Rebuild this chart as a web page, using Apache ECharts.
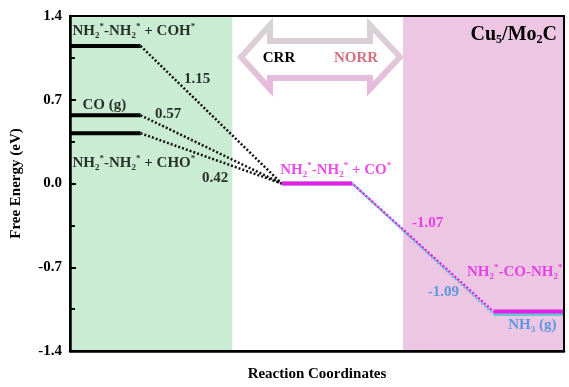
<!DOCTYPE html>
<html>
<head>
<meta charset="utf-8">
<script src="https://cdn.jsdelivr.net/npm/echarts@6/dist/echarts.min.js"></script>
<style>
  html, body { margin: 0; padding: 0; background: #fff; }
  #chart { width: 569px; height: 387px; }
</style>
</head>
<body>
<div id="chart"></div>
<script>
// Free-energy profile: C–N coupling on Cu5/Mo2C
const crrStates = ['NH_2^*-NH_2^* + COH^*', 'CO (g)', 'NH_2^*-NH_2^* + CHO^*'];
const crrEnergies = [1.15, 0.57, 0.42];
const crrBarrierLabels = ['1.15', '0.57', '0.42'];
const coState = 'NH_2^*-NH_2^* + CO^*';
const coEnergy = 0.0;
const ureaState = 'NH_2^*-CO-NH_2^*';
const ureaEnergy = -1.07;
const nh3State = 'NH_3 (g)';
const nh3Energy = -1.09;
const yTickLabels = ['-1.4', '-0.7', '0.0', '0.7', '1.4'];

const FONT = '"Liberation Serif", "Times New Roman", serif';
const BLACK = '#000';
const MAGENTA = '#e61ee6';
const CYAN = '#5ccbd2';
const BLUE = '#3b8de0';
const GREEN_BG = '#c9ecd3';
const PINK_BG = '#ecc6e2';

// reaction-coordinate columns (each state level spans one unit)
const COL_CRR = 0, COL_CO = 3, COL_END = 6;
const X_MAX = 7;

// convert "_2" into subscripts and "^*" into superscripts for rich text
function rich(s) {
  return s.replace(/_(\w)/g, '{s|$1}').replace(/\^\*/g, '{p|*}');
}
function richStyles(color, size) {
  const small = Math.round(size * 0.6);
  return {
    s: { fontSize: small, lineHeight: small, verticalAlign: 'bottom', fontWeight: 'bold', fontFamily: FONT, color: color },
    p: { fontSize: small, lineHeight: 13, verticalAlign: 'top', fontWeight: 'bold', fontFamily: FONT, color: color }
  };
}
function note(x, y, text, color, align, offset, size) {
  size = size || 15;
  return {
    value: [x, y],
    label: {
      show: true,
      position: [0, 0],
      align: align,
      verticalAlign: 'middle',
      offset: offset,
      formatter: rich(text),
      color: color,
      fontFamily: FONT,
      fontWeight: 'bold',
      fontSize: size,
      lineHeight: 18,
      rich: richStyles(color, size)
    }
  };
}

const yMin = parseFloat(yTickLabels[0]);
const yMax = parseFloat(yTickLabels[yTickLabels.length - 1]);
const yInterval = parseFloat(yTickLabels[1]) - parseFloat(yTickLabels[0]);

function levelSeries(col, e, color, width) {
  return { type: 'line', data: [[col, e], [col + 1, e]], symbol: 'none', z: 5,
    lineStyle: { color: color, width: width, cap: 'butt' } };
}
function linkSeries(x0, e0, x1, e1, color, dashOffset) {
  return { type: 'line', data: [[x0, e0], [x1, e1]], symbol: 'none', z: 4,
    lineStyle: { color: color, width: 2.5, type: [2, 2], dashOffset: dashOffset || 0 } };
}

const series = [];
// shaded regions (kept beneath the axes and frame)
series.push({
  type: 'line', data: [], silent: true, z: -5,
  markArea: {
    silent: true, z: -5,
    data: [
      [{ xAxis: 0, itemStyle: { color: GREEN_BG } }, { xAxis: 2.3 }],
      [{ xAxis: 4.72, itemStyle: { color: PINK_BG } }, { xAxis: X_MAX }]
    ]
  }
});
// CRR starting states and connectors to CO*
crrEnergies.forEach(function (e) {
  series.push(levelSeries(COL_CRR, e, BLACK, 4));
  series.push(linkSeries(COL_CRR + 1, e, COL_CO, coEnergy, '#111'));
});
// CO* level and its paths to the final states
series.push(levelSeries(COL_CO, coEnergy, CYAN, 4));
series.push(levelSeries(COL_CO, coEnergy, MAGENTA, 4));
series.push(linkSeries(COL_CO + 1, coEnergy, COL_END, nh3Energy, CYAN, 0));
series.push(linkSeries(COL_CO + 1, coEnergy, COL_END, ureaEnergy, MAGENTA, 2));
series.push(levelSeries(COL_END, nh3Energy, CYAN, 4));
series.push(levelSeries(COL_END, ureaEnergy, MAGENTA, 4));

// state names and energy labels
const notes = [
  note(COL_CRR, crrEnergies[0], crrStates[0], BLACK, 'left', [3, -14]),
  note(COL_CRR, crrEnergies[1], crrStates[1], BLACK, 'left', [13, -10]),
  note(COL_CRR, crrEnergies[2], crrStates[2], BLACK, 'left', [3, 30]),
  note(COL_CRR + 1, crrEnergies[0], crrBarrierLabels[0], BLACK, 'left', [44, 34]),
  note(COL_CRR + 1, crrEnergies[1], crrBarrierLabels[1], BLACK, 'left', [15, -1]),
  note(COL_CRR + 1, crrEnergies[2], crrBarrierLabels[2], BLACK, 'left', [62, 45]),
  note(COL_CO, coEnergy, coState, MAGENTA, 'left', [-1, -13]),
  note(COL_END, ureaEnergy, ureaEnergy.toFixed(2), MAGENTA, 'left', [-81, -88]),
  note(COL_END + 1, ureaEnergy, ureaState, MAGENTA, 'right', [-1, -39]),
  note(COL_END, nh3Energy, nh3Energy.toFixed(2), BLUE, 'right', [-34, -21]),
  note(COL_END + 1, nh3Energy, nh3State, BLUE, 'right', [-7, 12])
];
series.push({
  type: 'scatter', data: notes, symbolSize: 1, z: 10, silent: true,
  itemStyle: { color: 'rgba(0,0,0,0)' }
});

const chart = echarts.init(document.getElementById('chart'), null, { renderer: 'canvas' });

// CRR <-> NORR double arrow outline
const arrowStroke = new echarts.graphic.LinearGradient(0, 0, 0, 1, [
  { offset: 0, color: '#d4d4d4' },
  { offset: 0.45, color: '#e0cbd9' },
  { offset: 1, color: '#e8b6dc' }
]);

chart.setOption({
  animation: false,
  backgroundColor: '#fff',
  grid: { left: 70, right: 5, top: 16, bottom: 31, show: true, z: 8, borderColor: BLACK, borderWidth: 2, backgroundColor: 'transparent' },
  xAxis: {
    type: 'value', min: 0, max: X_MAX, z: 9,
    name: 'Reaction Coordinates', nameLocation: 'middle', nameGap: 16,
    nameTextStyle: { fontFamily: FONT, fontWeight: 'bold', fontSize: 15, color: BLACK, verticalAlign: 'top' },
    axisLine: { show: true, onZero: false, lineStyle: { color: BLACK, width: 2.5 } },
    axisTick: { show: false }, axisLabel: { show: false }, splitLine: { show: false }
  },
  yAxis: {
    type: 'value', min: yMin, max: yMax, interval: yInterval, z: 9,
    name: 'Free Energy (eV)', nameLocation: 'middle', nameGap: 46,
    nameTextStyle: { fontFamily: FONT, fontWeight: 'bold', fontSize: 15, color: BLACK },
    axisLine: { show: true, onZero: false, lineStyle: { color: BLACK, width: 2.5 } },
    axisTick: { show: true, inside: true, length: 6, lineStyle: { color: BLACK, width: 2 } },
    minorTick: { show: true, splitNumber: 2, length: 5, lineStyle: { color: BLACK, width: 2 } },
    axisLabel: {
      fontFamily: FONT, fontWeight: 'bold', fontSize: 15, color: BLACK, margin: 8,
      formatter: function (v) { return (Math.abs(v) < 1e-9 ? 0 : v).toFixed(1); }
    },
    splitLine: { show: false }
  },
  graphic: [
    {
      type: 'polygon', z: 20, silent: true,
      shape: { points: [[241, 57], [270, 25], [270, 41], [370, 41], [370, 25], [400, 57], [370, 89], [370, 78], [270, 78], [270, 89]] },
      style: { fill: 'none', stroke: arrowStroke, lineWidth: 6, lineJoin: 'miter' }
    },
    { type: 'text', z: 21, silent: true, x: 279, y: 58,
      style: { text: 'CRR', fill: BLACK, font: 'bold 15px ' + FONT, textAlign: 'center', textVerticalAlign: 'middle' } },
    { type: 'text', z: 21, silent: true, x: 356, y: 58,
      style: { text: 'NORR', fill: '#d66f80', font: 'bold 15px ' + FONT, textAlign: 'center', textVerticalAlign: 'middle' } },
    { type: 'text', z: 21, silent: true, right: 12, top: 25,
      style: {
        text: '{m|Cu}{s|5}{m|/Mo}{s|2}{m|C}',
        rich: {
          m: { fontFamily: FONT, fontWeight: 'bold', fontSize: 20, lineHeight: 22, color: BLACK },
          s: { fontFamily: FONT, fontWeight: 'bold', fontSize: 12, lineHeight: 12, verticalAlign: 'bottom', color: BLACK }
        }
      } }
  ],
  series: series
});
</script>
</body>
</html>
